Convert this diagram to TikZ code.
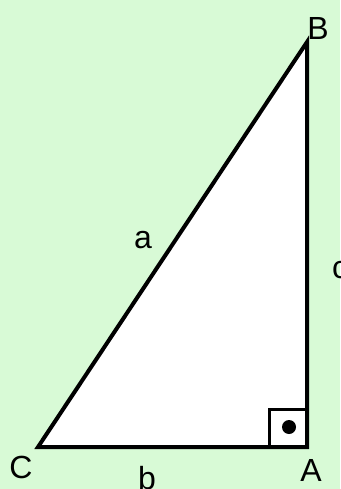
\documentclass[tikz,border=0pt]{standalone}
\usepackage{fontspec}
\setmainfont{Liberation Sans}
\definecolor{bg}{HTML}{D8FAD6}
\begin{document}
\begin{tikzpicture}[x=1pt,y=-1pt,
  lbl/.style={font=\fontsize{32}{34}\selectfont, inner sep=0pt},
  side/.style={line width=4pt, line join=miter}]
\fill[bg] (0,0) rectangle (340,489);
\useasboundingbox (0,0) rectangle (340,489);
\coordinate (C) at (38,447);
\coordinate (A) at (307,447);
\coordinate (B) at (307,42);
\fill[white] (C) -- (A) -- (B) -- cycle;
\draw[line width=3pt] (269,447) |- (307,409);
\fill (289,427) circle (7);
\draw[side] (C) -- (A) -- (B) -- cycle;
\node[lbl] (lB) at (318,28) {B};
\node[lbl] (lA) at (311,470) {A};
\node[lbl] (lC) at (21,467) {C};
\node[lbl] (lb) at (147,478) {b};
\node[lbl] (la) at (143,240) {a};
\node[lbl] (lc) at (340,270) {c};
\end{tikzpicture}
\end{document}
